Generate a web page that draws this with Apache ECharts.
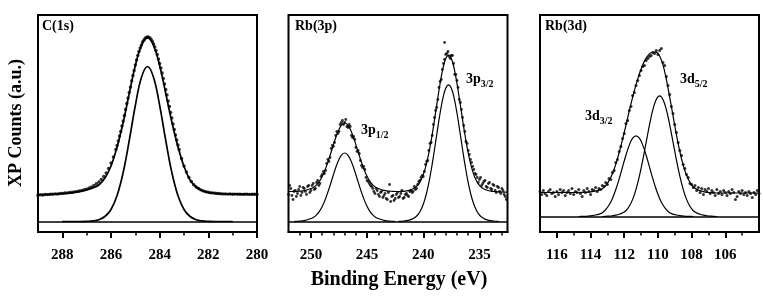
<!DOCTYPE html>
<html><head><meta charset="utf-8">
<script src="https://cdn.jsdelivr.net/npm/echarts@6/dist/echarts.min.js"></script>
<style>html,body{margin:0;padding:0;background:#fff}#c{width:763px;height:300px}</style>
</head><body><div id="c"></div>
<script>
// ---------- C(1s) ----------
const c1sRange = [280, 289];
const c1sMajor = [280, 282, 284, 286, 288];
const c1sMinor = [281, 283, 285, 287];
const c1sComp = [[288,0],[287.5,0],[287.25,0],[287,0.2],[286.75,0.6],[286.5,1.8],[286.25,5],[286,12],[285.75,26],[285.5,49],[285.25,81],[285,116],[284.75,144],[284.5,155],[284.25,144],[284,116],[283.75,81],[283.5,49],[283.25,26],[283,12],[282.75,5],[282.5,1.8],[282.25,0.6],[282,0.2],[281.75,0],[281,0]];
const c1sEnv = [[289,26.7],[288.75,26.9],[288.5,27.2],[288.25,27.5],[288,27.9],[287.75,28.4],[287.5,29.2],[287.25,30.2],[287,31.6],[286.75,33.6],[286.5,36.5],[286.25,43.5],[286,55.5],[285.75,74.5],[285.5,99],[285.25,128],[285,156],[284.75,176],[284.5,184],[284.25,176],[284,156],[283.75,128],[283.5,99.5],[283.25,75],[283,55],[282.75,41.5],[282.5,34.5],[282.25,30.8],[282,29],[281.75,28.2],[281.5,27.8],[281.25,27.5],[281,27.4],[280.75,27.3],[280.5,27.3],[280.25,27.2],[280,27.2]];
const c1sData = [[289.0,26.2],[288.9,26.8],[288.8,26.5],[288.7,27.0],[288.6,26.9],[288.5,27.3],[288.4,27.2],[288.3,27.6],[288.2,27.5],[288.1,28.0],[288.0,28.1],[287.9,28.5],[287.8,28.6],[287.7,29.0],[287.6,29.3],[287.5,29.6],[287.4,30.0],[287.3,30.6],[287.2,31.0],[287.1,31.8],[287.0,32.4],[286.9,33.5],[286.8,34.6],[286.7,36.0],[286.6,37.8],[286.5,39.5],[286.4,42.0],[286.3,45.0],[286.2,48.5],[286.1,53.0],[286.0,58.5],[285.9,64.5],
[285.8,72.0],[285.75,76.0],[285.7,80.5],[285.65,85.5],[285.6,90.0],[285.55,95.5],[285.5,100.5],[285.45,106.0],[285.4,112.0],[285.35,118.0],[285.3,123.5],[285.25,129.0],[285.2,134.5],[285.15,140.5],[285.1,146.0],[285.05,151.0],[285.0,156.5],[284.95,161.5],[284.9,166.0],[284.85,170.0],[284.8,173.5],[284.75,176.5],[284.7,179.5],[284.65,181.3],[284.6,183.0],[284.55,184.0],[284.5,184.5],[284.45,184.3],[284.4,183.5],[284.35,182.0],[284.3,180.0],[284.25,177.5],[284.2,174.5],[284.15,171.0],[284.1,167.0],[284.05,162.5],[284.0,158.0],[283.95,153.5],[283.9,148.5],[283.85,143.0],[283.8,137.5],[283.75,132.0],[283.7,126.5],[283.65,120.5],[283.6,115.0],[283.55,109.0],[283.5,103.5],[283.45,97.5],[283.4,92.0],[283.35,86.5],[283.3,81.5],[283.25,76.5],[283.2,72.0],
[283.1,63.0],[283.0,55.5],[282.9,49.5],[282.8,44.0],[282.7,40.0],[282.6,36.8],[282.5,34.5],[282.4,33.0],[282.3,31.6],[282.2,30.6],[282.1,29.8],[282.0,29.3],[281.9,28.8],[281.8,28.6],[281.7,28.2],[281.6,28.0],[281.5,27.8],[281.4,27.6],[281.3,27.6],[281.2,27.4],[281.1,27.5],[281.0,27.3],[280.9,27.4],[280.8,27.2],[280.7,27.3],[280.6,27.1],[280.5,27.3],[280.4,27.2],[280.3,27.1],[280.2,27.3],[280.1,27.2],[280.0,27.2]];

// ---------- Rb(3p) ----------
const p3Range = [232.5, 252];
const p3Major = [235, 240, 245, 250];
const p3Minor = [233,234,236,237,238,239,241,242,243,244,246,247,248,249,251];
const p3Comp12 = [[251.5,0],[251.25,0.2],[251,0.4],[250.75,0.7],[250.5,1.2],[250.25,2.0],[250,3.0],[249.75,4.3],[249.5,6.6],[249.25,10.1],[249,15.0],[248.75,21.4],[248.5,29.1],[248.25,37.8],[248,46.8],[247.75,55.3],[247.5,62.3],[247.25,66.9],[247,68.5],[246.75,66.9],[246.5,62.3],[246.25,55.3],[246,46.8],[245.75,37.8],[245.5,29.1],[245.25,21.4],[245,15.0],[244.75,10.1],[244.5,6.6],[244.25,4.3],[244,3.0],[243.75,2.0],[243.5,1.2],[243.25,0.7],[243,0.4],[242.75,0.2],[242.5,0]];
const p3Comp32 = [[242.25,0],[242,0.2],[241.75,0.4],[241.5,0.8],[241.25,1.4],[241,2.4],[240.75,4.0],[240.5,6.5],[240.25,10.7],[240,17.2],[239.75,26.5],[239.5,38.9],[239.25,54.3],[239,72.0],[238.75,90.7],[238.5,108.5],[238.25,123.4],[238,133.2],[237.75,136.7],[237.5,133.2],[237.25,123.4],[237,108.5],[236.75,90.7],[236.5,72.0],[236.25,54.3],[236,38.9],[235.75,26.5],[235.5,17.2],[235.25,10.7],[235,6.5],[234.75,4.0],[234.5,2.4],[234.25,1.4],[234,0.8],[233.75,0.4],[233.5,0.2],[233.25,0]];
const p3Env = [[252,30.0],[251.75,30.0],[251.5,30.1],[251.25,30.2],[251,30.4],[250.75,30.7],[250.5,31.2],[250.25,32.0],[250,33.0],[249.75,34.3],[249.5,36.6],[249.25,40.1],[249,45.0],[248.75,51.4],[248.5,59.1],[248.25,67.8],[248,76.8],[247.75,85.3],[247.5,92.3],[247.25,96.9],[247,98.5],[246.75,96.9],[246.5,92.3],[246.25,85.3],[246,76.8],[245.75,67.8],[245.5,59.1],[245.25,51.4],[245,45.0],[244.75,40.1],[244.5,36.6],[244.25,34.3],[244,33.0],[243.75,32.0],[243.5,31.2],[243.25,30.7],[243,30.4],[242.75,30.2],[242.5,30.0],[242.25,29.9],[242,30.1],[241.75,30.2],[241.5,30.6],[241.25,31.2],[241,32.2],[240.75,33.8],[240.5,36.3],[240.25,40.4],[240,46.9],[239.75,56.2],[239.5,68.6],[239.25,84.0],[239,101.7],[238.75,120.4],[238.5,138.2],[238.25,153.1],[238,162.9],[237.75,166.4],[237.5,162.9],[237.25,153.1],[237,138.2],[236.75,120.4],[236.5,101.7],[236.25,84.0],[236,68.6],[235.75,56.2],[235.5,46.9],[235.25,40.3],[235,36.1],[234.75,33.6],[234.5,32.0],[234.25,31.0],[234,30.4],[233.75,30.0],[233.5,29.8],[233.25,29.6],[233,29.5],[232.75,29.4],[232.5,29.4]];
const p3Data = [[252.0,27],[251.8,33],[251.6,22],[251.4,31],[251.2,28],[251.0,35],[250.8,29],[250.6,33],[250.4,27],[250.2,36],[250.0,31],[249.8,38],[249.6,33],[249.4,41],[249.2,38],[249.0,47],[248.8,48],[248.6,58],[248.4,60],[248.2,73],[248.0,75],[247.8,86],[247.6,88],[247.4,97],[247.2,101],[247.0,99],[246.8,95],[246.6,97],[246.4,86],[246.2,85],[246.0,74],[245.8,71],[245.6,61],[245.4,54],[245.2,52],[245.0,41],[244.8,38],[244.6,35],[244.4,30],[244.2,33],[244.0,27],[243.8,29],[243.6,24],[243.4,28],[243.2,22],[243.0,37],[242.8,25],[242.6,21],[242.4,27],[242.2,24],[242.0,28],[241.8,23],[241.6,27],[241.4,26],[241.2,30],[241.0,29],[240.8,35],[240.6,33],[240.4,40],[240.2,44],[240.0,45],[239.8,57],[239.6,61],[239.4,78],[239.2,86],[239.0,104],[238.8,114],[238.6,134],[238.4,142],[238.2,158],[238.1,179],[238.0,167],[237.8,170],[237.6,163],[237.4,166],[237.2,147],[237.0,141],[236.8,122],[236.6,112],[236.4,96],[236.2,80],[236.0,71],[235.8,62],[235.6,55],[235.4,48],[235.2,44],[235.0,42],[234.8,36],[234.6,40],[234.4,35],[234.2,38],[234.0,33],[233.8,37],[233.6,31],[233.4,35],[233.2,30],[233.0,33],[232.8,27],[232.6,22],
[251.9,36],[251.7,26],[251.5,30],[251.3,25],[251.1,32],[250.9,26],[250.7,34],[250.5,30],[250.3,35],[250.1,29],[249.9,36],[249.7,32],[249.5,39],[249.3,36],[249.1,45],[248.9,50],[248.7,51],[248.5,62],[248.3,64],[248.1,76],[247.9,79],[247.7,90],[247.5,90],[247.3,99],[247.1,97],[246.9,102],[246.7,94],[246.5,95],[246.3,84],[246.1,82],[245.9,70],[245.7,68],[245.5,56],[245.3,55],[245.1,44],[244.9,40],[244.7,36],[244.5,33],[244.3,28],[244.1,31],[243.9,25],[243.7,30],[243.5,26],[243.3,23],[243.1,29],[242.9,20],[242.7,26],[242.5,23],[242.3,29],[242.1,25],[241.9,31],[241.7,24],[241.5,28],[241.3,25],[241.1,31],[240.9,30],[240.7,32],[240.5,37],[240.3,41],[240.1,46],[239.9,50],[239.7,60],[239.5,71],[239.3,79],[239.1,97],[238.9,111],[238.7,122],[238.5,140],[238.3,152],[238.1,162],[237.9,168],[237.7,165],[237.5,166],[237.3,158],[237.1,147],[236.9,134],[236.7,119],[236.5,104],[236.3,90],[236.1,78],[235.9,67],[235.7,59],[235.5,52],[235.3,47],[235.1,39],[234.9,44],[234.7,38],[234.5,41],[234.3,34],[234.1,39],[233.9,32],[233.7,36],[233.5,29],[233.3,34],[233.1,28],[232.9,31],[232.7,25]];

// ---------- Rb(3d) ----------
const d3Range = [104, 117];
const d3Major = [106, 108, 110, 112, 114, 116];
const d3Minor = [105, 107, 109, 111, 113, 115];
const d3Comp32 = [[114.7,0],[114.5,0.1],[114.3,0.2],[114.1,0.5],[113.9,0.9],[113.7,1.5],[113.5,2.4],[113.3,3.8],[113.1,6.8],[112.9,11.5],[112.7,18.1],[112.5,27.0],[112.3,37.7],[112.1,49.5],[111.9,61.3],[111.7,71.4],[111.5,78.3],[111.3,80.7],[111.1,78.3],[110.9,71.4],[110.7,61.3],[110.5,49.5],[110.3,37.7],[110.1,27.0],[109.9,18.1],[109.7,11.5],[109.5,6.8],[109.3,3.8],[109.1,2.4],[108.9,1.5],[108.7,0.9],[108.5,0.5],[108.3,0.2],[108.1,0.1],[107.9,0]];
const d3Comp52 = [[113.3,0],[113.1,0.1],[112.9,0.4],[112.7,0.7],[112.5,1.3],[112.3,2.2],[112.1,3.6],[111.9,5.7],[111.7,10.2],[111.5,17.1],[111.3,27.1],[111.1,40.3],[110.9,56.4],[110.7,74.1],[110.5,91.7],[110.3,106.8],[110.1,117.1],[109.9,120.7],[109.7,117.1],[109.5,106.8],[109.3,91.7],[109.1,74.1],[108.9,56.4],[108.7,40.3],[108.5,27.1],[108.3,17.1],[108.1,10.2],[107.9,5.7],[107.7,3.6],[107.5,2.2],[107.3,1.3],[107.1,0.7],[106.9,0.4],[106.7,0.1],[106.5,0]];
const d3Env = [[117,24.0],[116,24.0],[115,24.0],[114.7,24.0],[114.5,24.1],[114.3,24.2],[114.1,24.5],[113.9,24.9],[113.7,25.5],[113.5,26.4],[113.3,27.8],[113.1,30.9],[112.9,35.9],[112.7,42.8],[112.5,52.3],[112.3,63.9],[112.1,77.1],[111.9,91.0],[111.7,105.6],[111.5,119.4],[111.3,131.8],[111.1,142.6],[110.9,151.8],[110.7,158.4],[110.5,162.5],[110.3,164.5],[110.1,164.3],[109.9,160.5],[109.7,151.6],[109.5,137.2],[109.3,119.3],[109.1,100.3],[108.9,81.7],[108.7,65.0],[108.5,51.4],[108.3,41.1],[108.1,34.1],[107.9,29.5],[107.7,27.3],[107.5,25.9],[107.3,24.9],[107.1,24.2],[106.9,23.9],[106.7,23.6],[106.5,23.5],[106,23.5],[105,23.5],[104,23.5]];
const d3Data = [[117.0,25],[116.9,22],[116.8,26],[116.7,23],[116.6,21],[116.5,25],[116.4,27],[116.3,23],[116.2,24],[116.1,20],[116.0,25],[115.9,22],[115.8,27],[115.7,24],[115.6,26],[115.5,21],[115.4,24],[115.3,26],[115.2,23],[115.1,28],[115.0,22],[114.9,25],[114.8,24],[114.7,27],[114.6,23],[114.5,20],[114.4,26],[114.3,24],[114.2,28],[114.1,25],[114.0,22],[113.9,27],[113.8,26],[113.7,29],[113.6,25],[113.5,28],[113.4,27],[113.3,31],[113.2,30],[113.1,34],[113.0,32],[112.9,38],[112.8,37],[112.7,44],[112.6,46],[112.5,54],[112.4,57],[112.3,65],[112.2,70],[112.1,78],[112.0,83],[111.9,93],[111.8,96],[111.7,106],[111.6,110],[111.5,121],[111.4,124],[111.3,131],[111.2,136],[111.1,141],[111.0,146],[110.9,150],[110.8,151],[110.7,156],[110.6,158],[110.5,160],[110.4,161],[110.3,164],[110.2,163],[110.1,166],[110.0,162],[109.9,166],[109.8,168],[109.7,154],[109.6,151],[109.5,140],[109.4,131],[109.3,122],[109.2,110],[109.1,103],[109.0,92],[108.9,84],[108.8,74],[108.7,66],[108.6,61],[108.5,52],[108.4,48],[108.3,42],[108.2,39],[108.1,33],[108.0,32],[107.9,29],[107.8,31],[107.7,26],[107.6,29],[107.5,24],[107.4,28],[107.3,22],[107.2,27],[107.1,25],[107.0,28],[106.9,23],[106.8,26],[106.7,24],[106.6,21],[106.5,27],[106.4,23],[106.3,25],[106.2,22],[106.1,26],[106.0,24],[105.9,21],[105.8,25],[105.7,23],[105.6,27],[105.5,24],[105.4,17],[105.3,20],[105.2,25],[105.1,23],[105.0,26],[104.9,22],[104.8,24],[104.7,21],[104.6,25],[104.5,23],[104.4,19],[104.3,24],[104.2,22],[104.1,26],[104.0,23]];

// ---------- text ----------
const panelTitles = ['C(1s)', 'Rb(3p)', 'Rb(3d)'];
const xTitle = 'Binding Energy (eV)';
const yTitle = 'XP Counts (a.u.)';

const SERIF = '"Liberation Serif","Times New Roman",serif';
const panels = [
  {range: c1sRange, major: c1sMajor, minor: c1sMinor, yMin: -10.5, left: 38, comps: [c1sComp], env: c1sEnv, data: c1sData, lw: 1.7, ds: 3.4},
  {range: p3Range, major: p3Major, minor: p3Minor, yMin: -10.5, left: 288.5, comps: [p3Comp12, p3Comp32], env: p3Env, data: p3Data, lw: 1.2, ds: 2.8},
  {range: d3Range, major: d3Major, minor: d3Minor, yMin: -15.5, left: 540, comps: [d3Comp32, d3Comp52], env: d3Env, data: d3Data, lw: 1.2, ds: 3}
];
const GH = 217, GW = 219, GT = 15;

const grid = [], xAxis = [], yAxis = [], series = [];
panels.forEach((p, i) => {
  grid.push({left: p.left, top: GT, width: GW, height: GH, show: true, borderColor: '#000', borderWidth: 2, backgroundColor: 'transparent'});
  xAxis.push({type: 'value', gridIndex: i, min: p.range[0], max: p.range[1], inverse: true, position: 'bottom',
    axisLine: {show: true, onZero: false, lineStyle: {color: '#000', width: 2}},
    axisTick: {show: true, inside: false, length: 6, customValues: p.major, lineStyle: {color: '#000', width: 2}},
    axisLabel: {show: true, customValues: p.major, margin: 16, color: '#000', fontFamily: SERIF, fontWeight: 'bold', fontSize: 15},
    splitLine: {show: false}});
  xAxis.push({type: 'value', gridIndex: i, min: p.range[0], max: p.range[1], inverse: true, position: 'bottom',
    axisLine: {show: false, onZero: false},
    axisTick: {show: true, inside: false, length: 3.5, customValues: p.minor, lineStyle: {color: '#000', width: 1.5}},
    axisLabel: {show: false}, splitLine: {show: false}});
  yAxis.push({type: 'value', gridIndex: i, min: p.yMin, max: p.yMin + GH, show: false, splitLine: {show: false}});
  series.push({type: 'scatter', xAxisIndex: 2 * i, yAxisIndex: i, data: p.data, symbol: 'circle', symbolSize: p.ds,
    itemStyle: {color: '#000'}, silent: true, z: 2,
    markLine: {silent: true, symbol: 'none', label: {show: false}, lineStyle: {color: '#000', width: 1.5, type: 'solid'}, data: [{yAxis: 0}]}});
  p.comps.forEach(c => series.push({type: 'line', xAxisIndex: 2 * i, yAxisIndex: i, data: c, smooth: 0.4, showSymbol: false,
    lineStyle: {color: '#000', width: p.lw}, silent: true, z: 3}));
  series.push({type: 'line', xAxisIndex: 2 * i, yAxisIndex: i, data: p.env, smooth: 0.4, showSymbol: false,
    lineStyle: {color: '#000', width: p.lw}, silent: true, z: 3});
});

function peakLabel(main, sub, x, y) {
  return {type: 'text', x: x, y: y, z: 10, style: {text: '{m|' + main + '}{s|' + sub + '}', align: 'left', verticalAlign: 'top',
    rich: {m: {fontFamily: SERIF, fontWeight: 'bold', fontSize: 14, lineHeight: 14, verticalAlign: 'top', fill: '#000', color: '#000'},
           s: {fontFamily: SERIF, fontWeight: 'bold', fontSize: 10, lineHeight: 10, verticalAlign: 'top', padding: [7, 0, 0, 0], fill: '#000', color: '#000'}}}};
}
function plainText(t, x, y, size) {
  return {type: 'text', x: x, y: y, z: 10, style: {text: t, fontFamily: SERIF, fontWeight: 'bold', fontSize: size, fill: '#000', align: 'left', verticalAlign: 'top'}};
}

const graphic = [
  plainText(panelTitles[0], 42, 19, 14),
  plainText(panelTitles[1], 295, 19, 14),
  plainText(panelTitles[2], 545, 19, 14),
  peakLabel('3p', '3/2', 466, 72),
  peakLabel('3p', '1/2', 361, 123),
  peakLabel('3d', '3/2', 585, 109),
  peakLabel('3d', '5/2', 680, 72),
  {type: 'text', x: 399, y: 280, z: 10, style: {text: xTitle, fontFamily: SERIF, fontWeight: 'bold', fontSize: 20, fill: '#000', align: 'center', verticalAlign: 'middle'}},
  {type: 'text', x: 16, y: 123, rotation: Math.PI / 2, z: 10, style: {text: yTitle, fontFamily: SERIF, fontWeight: 'bold', fontSize: 18, fill: '#000', align: 'center', verticalAlign: 'middle'}}
];

const chart = echarts.init(document.getElementById('c'), null, {renderer: 'canvas'});
chart.setOption({animation: false, backgroundColor: '#fff', grid, xAxis, yAxis, series, graphic});
</script>
</body></html>
